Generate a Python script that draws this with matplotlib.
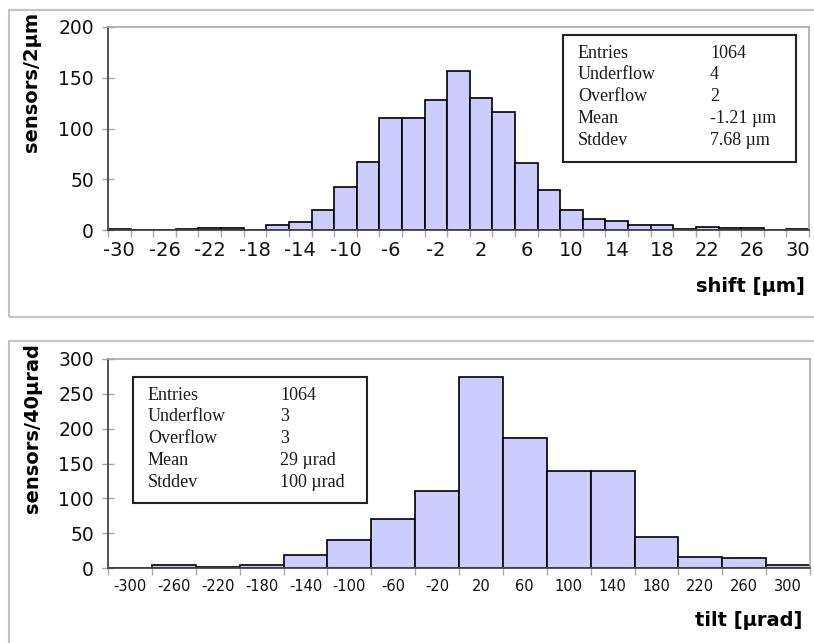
import numpy as np
import matplotlib
matplotlib.use("Agg")
import matplotlib.pyplot as plt
from matplotlib.patches import Rectangle

# shift histogram, 2 um bins centred on -30 ... 30
shift_centers = list(range(-30, 32, 2))
shift_counts = [1, 0, 0, 1, 2, 2, 0, 5, 8, 20, 42, 67, 110, 110, 128, 157,
                130, 116, 66, 39, 20, 11, 9, 5, 5, 1, 3, 2, 2, 0, 1]
shift_ticks = list(range(-30, 32, 4))
shift_stats = [("Entries", "1064"), ("Underflow", "4"), ("Overflow", "2"),
               ("Mean", "-1.21 \u00b5m"), ("Stddev", "7.68 \u00b5m")]

# tilt histogram, 40 urad bins centred on -300 ... 300
tilt_centers = list(range(-300, 340, 40))
tilt_counts = [0, 4, 2, 4, 18, 40, 70, 111, 274, 187, 139, 139, 45, 16, 14, 5]
tilt_ticks = tilt_centers
tilt_stats = [("Entries", "1064"), ("Underflow", "3"), ("Overflow", "3"),
              ("Mean", "29 \u00b5rad"), ("Stddev", "100 \u00b5rad")]

W, H = 814, 643
BAR = "#ccccff"
GRID = "#a8a8a8"
SERIF = ["Liberation Serif", "DejaVu Serif"]

fig = plt.figure(figsize=(W / 100, H / 100), dpi=100)


def px(x0, y0, x1, y1):
    # pixel box (top-left origin) -> figure fraction rect
    return [x0 / W, 1 - y1 / H, (x1 - x0) / W, (y1 - y0) / H]


def panel(rect, centers, counts, width, ticks, ymax, xtick_size):
    ax = fig.add_axes(rect)
    ax.bar(centers, counts, width=width, color=BAR, edgecolor="black",
           linewidth=1.2, align="center", zorder=2)
    lo = centers[0] - width / 2
    hi = centers[-1] + width / 2
    ax.set_xlim(lo, hi)
    ax.set_ylim(0, ymax)
    ax.set_yticks(np.arange(0, ymax + 1, 50))
    ax.set_xticks(ticks)
    ax.set_xticklabels([str(t) for t in ticks])
    ax.set_xticks(np.arange(lo, hi + width / 2, width), minor=True)
    ax.tick_params(axis="x", which="major", length=0, pad=8,
                   labelsize=xtick_size, labelcolor="#111111")
    ax.tick_params(axis="x", which="minor", length=5, width=1,
                   color=GRID, direction="out")
    ax.tick_params(axis="y", length=8, width=1, color=GRID,
                   direction="inout", labelsize=13.5, pad=6, labelcolor="#111111")
    for s in ("top", "right"):
        ax.spines[s].set_color(GRID)
        ax.spines[s].set_linewidth(1.2)
    ax.spines["left"].set_color("#444444")
    ax.spines["bottom"].set_color("#444444")
    ax.spines["left"].set_linewidth(1.3)
    ax.spines["bottom"].set_linewidth(1.3)
    return ax


def stats_box(x0, y0, x1, y1, col2, rows):
    fig.patches.append(Rectangle((x0 / W, 1 - y1 / H), (x1 - x0) / W,
                                 (y1 - y0) / H, transform=fig.transFigure,
                                 facecolor="white", edgecolor="#222222",
                                 linewidth=1.5, zorder=5))
    for i, (k, v) in enumerate(rows):
        y = y0 + 18 + i * 21.8
        fig.text((x0 + 15) / W, 1 - y / H, k, family=SERIF, fontsize=13,
                 va="center", ha="left", color="#1a1a1a", zorder=6)
        fig.text(col2 / W, 1 - y / H, v, family=SERIF, fontsize=13,
                 va="center", ha="left", color="#1a1a1a", zorder=6)


# outer chart frames
for (x0, y0, x1, y1) in [(9, 10, 830, 317), (9, 341, 830, 660)]:
    fig.patches.append(Rectangle((x0 / W, 1 - y1 / H), (x1 - x0) / W,
                                 (y1 - y0) / H, transform=fig.transFigure,
                                 facecolor="none", edgecolor="#c4c4c4",
                                 linewidth=1.5))

ax1 = panel(px(108, 27, 809, 230), shift_centers, shift_counts, 2,
            shift_ticks, 200, 14)
ax2 = panel(px(108, 359, 810, 568), tilt_centers, tilt_counts, 40,
            tilt_ticks, 300, 10.5)

stats_box(563, 35, 796, 162, 710, shift_stats)
stats_box(133, 377, 367, 503, 280, tilt_stats)

fig.text(32 / W, 1 - 82 / H, "sensors/2\u00b5m", rotation=90, ha="center",
         va="center", fontsize=14, fontweight="bold")
fig.text(33 / W, 1 - 428 / H, "sensors/40\u00b5rad", rotation=90, ha="center",
         va="center", fontsize=14, fontweight="bold")
fig.text(805 / W, 1 - 287 / H, "shift [\u00b5m]", ha="right", va="center",
         fontsize=14, fontweight="bold")
fig.text(802 / W, 1 - 620 / H, "tilt [\u00b5rad]", ha="right", va="center",
         fontsize=14, fontweight="bold")

fig.savefig("out.png", dpi=100)
